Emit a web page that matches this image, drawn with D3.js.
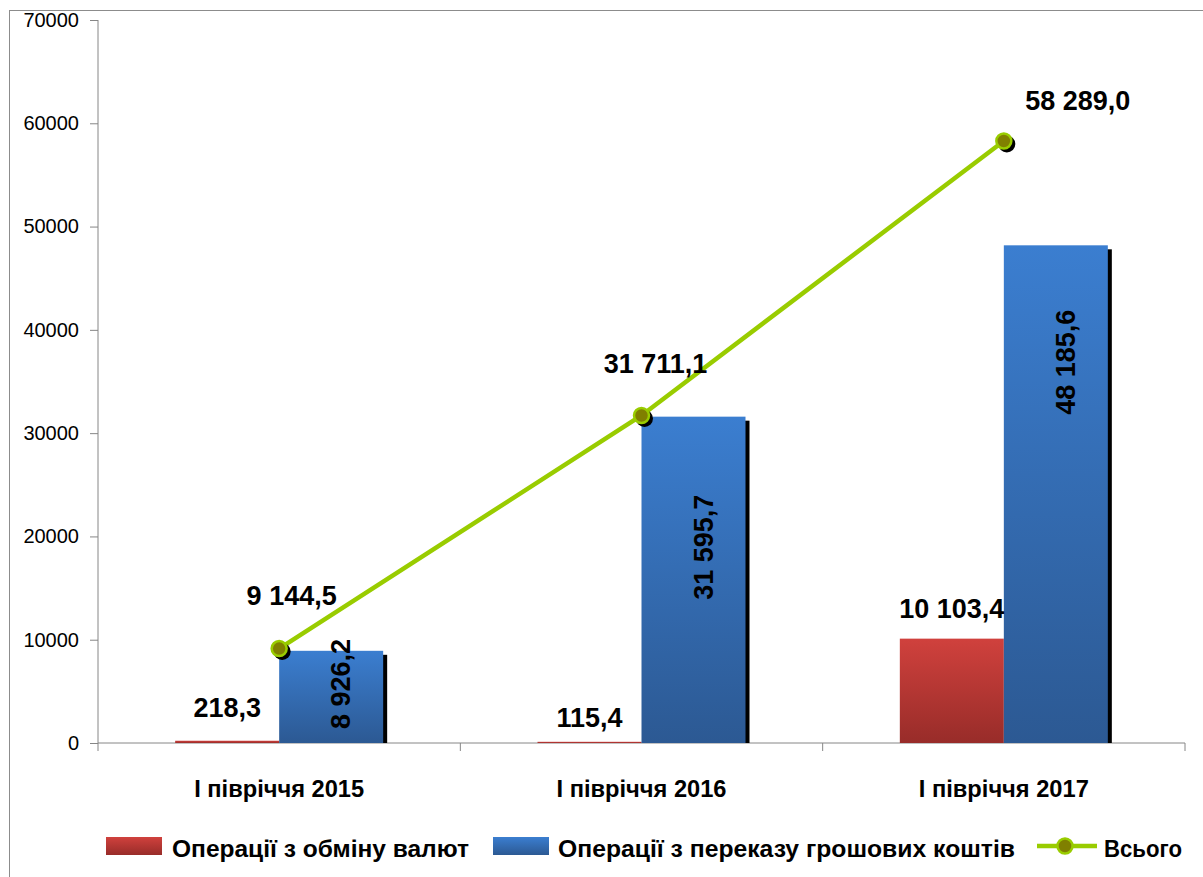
<!DOCTYPE html>
<html><head><meta charset="utf-8">
<script src="https://cdn.jsdelivr.net/npm/d3@7"></script>
<style>body{margin:0;background:#fff}svg{display:block}</style>
</head><body>
<script>
const categories = ["I півріччя 2015", "I півріччя 2016", "I півріччя 2017"];
const exchangeOps = [218.3, 115.4, 10103.4];
const transferOps = [8926.2, 31595.7, 48185.6];
const totalOps = [9144.5, 31711.1, 58289.0];
const yTicks = [0, 10000, 20000, 30000, 40000, 50000, 60000, 70000];
const seriesNames = ["Операції з обміну валют", "Операції з переказу грошових коштів", "Всього"];

// label layout offsets (pixels)
const totalLabelOffset = [[12.5, -43.5], [14, -42], [74, -31]];
const exchLabelOffset = [-24, -15, -21];
const transferLabelFrac = [0.64, 0.60, 0.765];

const W = 1203, H = 877;
const FONT = "'Liberation Sans', Arial, sans-serif";
const fmt = v => { const s = v.toFixed(1).replace('.', ','); const [i, d] = s.split(','); return i.replace(/\B(?=(\d{3})+(?!\d))/g, ' ') + ',' + d; };

const svg = d3.select("body").append("svg").attr("width", W).attr("height", H)
  .style("font-family", FONT);
const defs = svg.append("defs");
const gr = defs.append("linearGradient").attr("id", "gRed").attr("x1", 0).attr("y1", 0).attr("x2", 0).attr("y2", 1);
gr.append("stop").attr("offset", 0).attr("stop-color", "#d0413d");
gr.append("stop").attr("offset", 1).attr("stop-color", "#982c29");
const gb = defs.append("linearGradient").attr("id", "gBlue").attr("x1", 0).attr("y1", 0).attr("x2", 0).attr("y2", 1);
gb.append("stop").attr("offset", 0).attr("stop-color", "#3b7ed0");
gb.append("stop").attr("offset", 1).attr("stop-color", "#2c5993");

svg.append("rect").attr("x", 9.5).attr("y", 10.5).attr("width", 1200).attr("height", 880)
  .attr("fill", "none").attr("stroke", "#8c8c8c").attr("stroke-width", 1);

const x0 = 98, x1 = 1185;
const y = d3.scaleLinear().domain([0, 70000]).range([743, 20]);
const x = d3.scaleBand().domain(categories).range([x0, x1]).paddingInner(0).paddingOuter(0);
const bw = 104;

// Y axis
const yAxis = d3.axisLeft(y).tickValues(yTicks).tickSize(8).tickPadding(11).tickFormat(d3.format("d"));
const ya = svg.append("g").attr("transform", `translate(${x0},0)`).call(yAxis);
ya.selectAll("path,line").attr("stroke", "#868686");
ya.select(".domain").attr("d", `M0,${y(70000)}V${y(0)}`);
ya.selectAll("text").attr("font-size", 20).attr("fill", "#000").style("font-family", FONT);

// X axis
const xg = svg.append("g");
xg.append("line").attr("x1", x0).attr("x2", x1).attr("y1", y(0)).attr("y2", y(0)).attr("stroke", "#868686");
[x0, ...categories.map(c => x(c) + x.bandwidth())].forEach(px => {
  xg.append("line").attr("x1", px).attr("x2", px).attr("y1", y(0)).attr("y2", y(0) + 8).attr("stroke", "#868686");
});
xg.selectAll("text.cat").data(categories).join("text")
  .attr("x", d => x(d) + x.bandwidth() / 2).attr("y", 797).attr("text-anchor", "middle")
  .attr("font-size", 23).attr("font-weight", "bold")
  .attr("textLength", 170).attr("lengthAdjust", "spacingAndGlyphs").text(d => d);

const cx = c => x(c) + x.bandwidth() / 2;

// Red bars
svg.selectAll("rect.red").data(categories).join("rect")
  .attr("x", d => cx(d) - bw).attr("width", bw)
  .attr("y", (d, i) => y(exchangeOps[i])).attr("height", (d, i) => y(0) - y(exchangeOps[i]))
  .attr("fill", "url(#gRed)");
// Blue bar shadows
svg.selectAll("rect.bshadow").data(categories).join("rect")
  .attr("x", d => cx(d) + 4).attr("width", bw)
  .attr("y", (d, i) => y(transferOps[i]) + 4).attr("height", (d, i) => y(0) - y(transferOps[i]) - 4)
  .attr("fill", "#000");
svg.selectAll("rect.blue").data(categories).join("rect")
  .attr("x", d => cx(d)).attr("width", bw)
  .attr("y", (d, i) => y(transferOps[i])).attr("height", (d, i) => y(0) - y(transferOps[i]))
  .attr("fill", "url(#gBlue)");

// Red labels
svg.selectAll("text.rl").data(categories).join("text")
  .attr("x", d => cx(d) - bw / 2).attr("y", (d, i) => y(exchangeOps[i]) + exchLabelOffset[i])
  .attr("text-anchor", "middle").attr("font-size", 27).attr("font-weight", "bold")
  .text((d, i) => fmt(exchangeOps[i]));
// Blue labels (rotated)
svg.selectAll("text.bl").data(categories).join("text")
  .attr("transform", (d, i) => {
    const top = y(transferOps[i]), bot = y(0);
    const py = bot - (bot - top) * transferLabelFrac[i];
    return `translate(${cx(d) + 71},${py}) rotate(-90)`;
  })
  .attr("text-anchor", "middle").attr("font-size", 27).attr("font-weight", "bold")
  .text((d, i) => fmt(transferOps[i]));

// Total line
const line = d3.line().x((d, i) => cx(categories[i])).y(d => y(d));
svg.append("path").datum(totalOps).attr("d", line).attr("fill", "none")
  .attr("stroke", "#99cc00").attr("stroke-width", 4.5);
svg.selectAll("circle.sh").data(totalOps).join("circle")
  .attr("cx", (d, i) => cx(categories[i]) + 3).attr("cy", d => y(d) + 3).attr("r", 8.5).attr("fill", "#000");
svg.selectAll("circle.pt").data(totalOps).join("circle")
  .attr("cx", (d, i) => cx(categories[i])).attr("cy", d => y(d)).attr("r", 7.5)
  .attr("fill", "#808000").attr("stroke", "#99cc00").attr("stroke-width", 2.5);
svg.selectAll("text.tl").data(totalOps).join("text")
  .attr("x", (d, i) => cx(categories[i]) + totalLabelOffset[i][0])
  .attr("y", (d, i) => y(d) + totalLabelOffset[i][1])
  .attr("text-anchor", "middle").attr("font-size", 27).attr("font-weight", "bold")
  .text(d => fmt(d));

// Legend
const lg = svg.append("g").attr("font-size", 24).attr("font-weight", "bold");
lg.append("rect").attr("x", 106).attr("y", 837).attr("width", 56).attr("height", 18).attr("fill", "url(#gRed)");
lg.append("text").attr("x", 172).attr("y", 857).attr("textLength", 297).attr("lengthAdjust", "spacingAndGlyphs").text(seriesNames[0]);
lg.append("rect").attr("x", 493).attr("y", 837).attr("width", 56).attr("height", 18).attr("fill", "url(#gBlue)");
lg.append("text").attr("x", 558).attr("y", 857).attr("textLength", 457).attr("lengthAdjust", "spacingAndGlyphs").text(seriesNames[1]);
lg.append("line").attr("x1", 1037).attr("x2", 1097).attr("y1", 846).attr("y2", 846).attr("stroke", "#99cc00").attr("stroke-width", 4.5);
lg.append("circle").attr("cx", 1065).attr("cy", 846).attr("r", 7.5).attr("fill", "#808000").attr("stroke", "#99cc00").attr("stroke-width", 2.5);
lg.append("text").attr("x", 1104).attr("y", 857).attr("textLength", 78).attr("lengthAdjust", "spacingAndGlyphs").text(seriesNames[2]);
</script>
</body></html>
